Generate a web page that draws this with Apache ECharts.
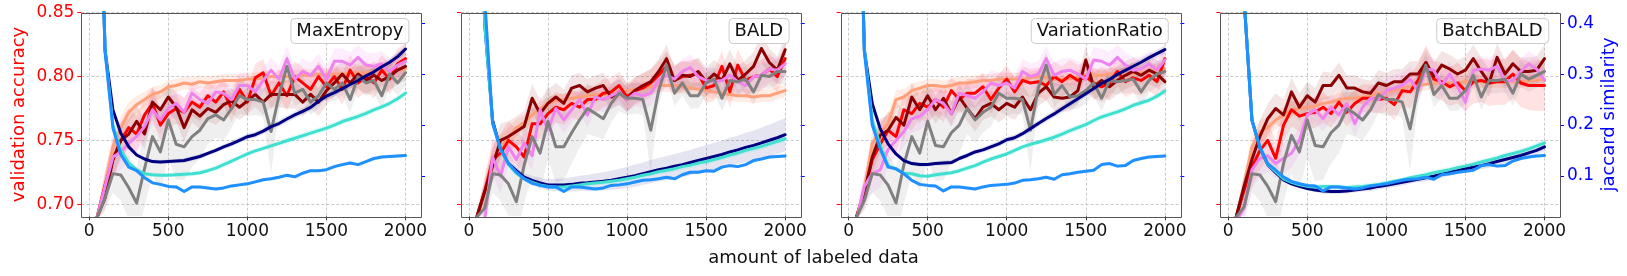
<!DOCTYPE html>
<html>
<head>
<meta charset="utf-8">
<script src="https://cdn.jsdelivr.net/npm/echarts/dist/echarts.min.js"></script>
<style>
html,body{margin:0;padding:0;background:#fff;}
#chart{width:1627px;height:276px;}
</style>
</head>
<body>
<div id="chart"></div>
<script>
// ---------- data ----------
const X = [50,100,150,200,250,300,350,400,450,500,550,600,650,700,750,800,850,900,950,1000,1050,1100,1150,1200,1250,1300,1350,1400,1450,1500,1550,1600,1650,1700,1750,1800,1850,1900,1950,2000];
const X_TICKS = [0,500,1000,1500,2000];
const ACC_TICKS = [0.70,0.75,0.80,0.85];
const JAC_TICKS = [0.1,0.2,0.3,0.4];
const PANEL_TITLES = ['MaxEntropy','BALD','VariationRatio','BatchBALD'];

// MaxEntropy
const ME_salmon = [0.690,0.715,0.745,0.760,0.772,0.778,0.782,0.786,0.788,0.792,0.793,0.795,0.794,0.796,0.795,0.796,0.797,0.797,0.797,0.798,0.798,0.799,0.800,0.800,0.800,0.800,0.801,0.801,0.802,0.801,0.802,0.802,0.803,0.803,0.803,0.804,0.804,0.805,0.805,0.806];
const ME_red = [0.690,0.715,0.735,0.750,0.760,0.755,0.770,0.779,0.762,0.771,0.775,0.772,0.780,0.776,0.785,0.780,0.788,0.775,0.790,0.780,0.799,0.803,0.785,0.795,0.785,0.800,0.795,0.790,0.800,0.792,0.800,0.790,0.805,0.795,0.800,0.795,0.805,0.798,0.810,0.814];
const ME_darkred = [0.690,0.705,0.735,0.750,0.755,0.765,0.755,0.780,0.774,0.784,0.776,0.760,0.774,0.769,0.775,0.772,0.778,0.781,0.776,0.781,0.786,0.780,0.786,0.786,0.786,0.786,0.780,0.786,0.780,0.789,0.795,0.802,0.795,0.802,0.797,0.801,0.797,0.800,0.805,0.808];
const ME_violet = [0.690,0.714,0.737,0.741,0.748,0.753,0.761,0.774,0.766,0.775,0.779,0.772,0.787,0.782,0.779,0.788,0.787,0.782,0.793,0.793,0.788,0.797,0.805,0.798,0.814,0.798,0.804,0.801,0.808,0.798,0.812,0.812,0.809,0.815,0.809,0.808,0.810,0.804,0.809,0.812];
const ME_gray = [0.690,0.705,0.724,0.723,0.713,0.701,0.728,0.753,0.741,0.766,0.747,0.745,0.753,0.758,0.767,0.770,0.766,0.775,0.785,0.782,0.782,0.780,0.757,0.785,0.808,0.787,0.790,0.780,0.785,0.795,0.790,0.795,0.782,0.800,0.795,0.797,0.785,0.802,0.795,0.803];
const ME_navy = [0.90,0.348,0.230,0.184,0.157,0.141,0.133,0.128,0.127,0.128,0.129,0.130,0.134,0.138,0.144,0.150,0.157,0.163,0.170,0.177,0.181,0.188,0.197,0.203,0.212,0.220,0.227,0.235,0.247,0.257,0.264,0.272,0.280,0.288,0.297,0.305,0.315,0.324,0.335,0.350];
const ME_turq = [0.90,0.350,0.200,0.150,0.125,0.112,0.104,0.102,0.101,0.101,0.102,0.103,0.104,0.106,0.110,0.115,0.122,0.129,0.136,0.143,0.149,0.154,0.159,0.164,0.169,0.174,0.179,0.184,0.189,0.194,0.200,0.207,0.212,0.217,0.223,0.230,0.236,0.243,0.252,0.263];
const ME_dodger = [0.95,0.346,0.194,0.142,0.117,0.110,0.096,0.086,0.083,0.079,0.078,0.069,0.078,0.078,0.076,0.074,0.076,0.080,0.082,0.084,0.088,0.092,0.094,0.097,0.101,0.098,0.105,0.110,0.110,0.112,0.118,0.122,0.125,0.122,0.128,0.134,0.137,0.138,0.139,0.140];

// BALD
const BALD_salmon = [0.690,0.710,0.735,0.745,0.752,0.760,0.764,0.770,0.775,0.779,0.781,0.782,0.783,0.784,0.785,0.786,0.786,0.787,0.788,0.789,0.790,0.791,0.792,0.793,0.793,0.793,0.792,0.791,0.790,0.789,0.788,0.787,0.786,0.785,0.785,0.784,0.785,0.785,0.787,0.789];
const BALD_red = [0.690,0.710,0.735,0.740,0.750,0.745,0.737,0.763,0.763,0.771,0.776,0.774,0.779,0.776,0.782,0.782,0.787,0.788,0.793,0.784,0.789,0.791,0.795,0.801,0.808,0.797,0.800,0.801,0.802,0.791,0.793,0.808,0.788,0.809,0.797,0.800,0.801,0.806,0.800,0.814];
const BALD_darkred = [0.690,0.710,0.730,0.750,0.753,0.757,0.761,0.783,0.771,0.779,0.784,0.779,0.791,0.793,0.788,0.791,0.793,0.784,0.788,0.782,0.789,0.793,0.796,0.804,0.814,0.797,0.801,0.800,0.804,0.796,0.802,0.797,0.810,0.797,0.802,0.808,0.822,0.811,0.805,0.821];
const BALD_violet = [0.686,0.688,0.737,0.722,0.745,0.735,0.748,0.738,0.774,0.758,0.775,0.766,0.774,0.782,0.770,0.784,0.782,0.785,0.788,0.782,0.787,0.785,0.787,0.797,0.801,0.798,0.804,0.807,0.800,0.797,0.796,0.797,0.801,0.796,0.793,0.800,0.801,0.806,0.805,0.810];
const BALD_gray = [0.690,0.697,0.724,0.723,0.716,0.702,0.731,0.753,0.740,0.765,0.745,0.745,0.756,0.766,0.775,0.771,0.767,0.779,0.787,0.783,0.783,0.782,0.758,0.789,0.809,0.787,0.795,0.785,0.785,0.795,0.798,0.783,0.797,0.796,0.798,0.788,0.801,0.800,0.804,0.804];
const BALD_navy = [0.95,0.40,0.209,0.153,0.124,0.110,0.097,0.091,0.086,0.082,0.082,0.082,0.083,0.085,0.086,0.0875,0.089,0.091,0.094,0.097,0.100,0.104,0.108,0.112,0.115,0.119,0.122,0.126,0.130,0.134,0.138,0.142,0.147,0.151,0.156,0.160,0.165,0.170,0.175,0.181];
const BALD_turq = [0.95,0.40,0.205,0.152,0.122,0.105,0.094,0.087,0.082,0.079,0.078,0.078,0.080,0.082,0.084,0.0855,0.087,0.089,0.091,0.094,0.097,0.101,0.104,0.108,0.111,0.114,0.118,0.121,0.125,0.128,0.132,0.136,0.141,0.145,0.150,0.154,0.158,0.163,0.168,0.173];
const BALD_dodger = [0.95,0.45,0.203,0.153,0.124,0.107,0.094,0.085,0.081,0.078,0.078,0.069,0.078,0.078,0.076,0.074,0.076,0.081,0.082,0.084,0.0875,0.091,0.092,0.094,0.097,0.094,0.102,0.107,0.107,0.110,0.109,0.117,0.120,0.118,0.122,0.130,0.133,0.137,0.138,0.139];

// VariationRatio
const VR_salmon = [0.690,0.712,0.748,0.756,0.763,0.782,0.784,0.789,0.791,0.793,0.793,0.792,0.793,0.795,0.795,0.796,0.797,0.797,0.798,0.798,0.798,0.798,0.799,0.800,0.799,0.798,0.798,0.798,0.800,0.801,0.801,0.801,0.802,0.802,0.802,0.802,0.803,0.804,0.805,0.806];
const VR_red = [0.690,0.709,0.735,0.747,0.758,0.753,0.774,0.771,0.779,0.776,0.782,0.776,0.789,0.782,0.787,0.787,0.792,0.782,0.791,0.798,0.788,0.797,0.795,0.796,0.793,0.800,0.796,0.801,0.797,0.800,0.795,0.792,0.795,0.804,0.796,0.799,0.797,0.801,0.796,0.814];
const VR_darkred = [0.690,0.709,0.737,0.754,0.758,0.768,0.762,0.784,0.774,0.785,0.774,0.783,0.771,0.784,0.775,0.767,0.776,0.779,0.774,0.779,0.776,0.784,0.774,0.787,0.792,0.784,0.783,0.784,0.789,0.813,0.792,0.797,0.792,0.797,0.801,0.804,0.801,0.805,0.802,0.796];
const VR_violet = [0.688,0.714,0.724,0.727,0.743,0.750,0.757,0.767,0.769,0.774,0.782,0.779,0.771,0.787,0.785,0.783,0.788,0.795,0.793,0.795,0.791,0.804,0.800,0.802,0.814,0.801,0.804,0.805,0.802,0.798,0.813,0.812,0.809,0.815,0.809,0.805,0.806,0.810,0.805,0.813];
const VR_gray = [0.690,0.703,0.724,0.723,0.715,0.701,0.731,0.753,0.740,0.765,0.746,0.745,0.756,0.762,0.775,0.766,0.772,0.776,0.787,0.783,0.783,0.782,0.758,0.791,0.809,0.786,0.793,0.784,0.785,0.789,0.795,0.783,0.797,0.796,0.797,0.798,0.788,0.797,0.802,0.804];
const VR_navy = [0.95,0.347,0.242,0.193,0.163,0.143,0.130,0.124,0.122,0.122,0.124,0.125,0.126,0.134,0.140,0.147,0.151,0.157,0.163,0.171,0.175,0.183,0.193,0.203,0.213,0.222,0.232,0.242,0.252,0.262,0.272,0.282,0.290,0.300,0.308,0.316,0.324,0.333,0.341,0.349];
const VR_turq = [0.95,0.350,0.210,0.160,0.120,0.113,0.105,0.104,0.100,0.099,0.102,0.104,0.106,0.110,0.115,0.120,0.127,0.133,0.138,0.143,0.150,0.157,0.162,0.166,0.171,0.176,0.182,0.189,0.195,0.201,0.209,0.216,0.221,0.226,0.232,0.239,0.244,0.249,0.257,0.267];
const VR_dodger = [0.95,0.345,0.200,0.153,0.117,0.114,0.104,0.091,0.083,0.081,0.080,0.070,0.078,0.078,0.076,0.074,0.078,0.081,0.082,0.083,0.0855,0.091,0.092,0.094,0.097,0.093,0.102,0.104,0.107,0.109,0.111,0.122,0.124,0.119,0.120,0.130,0.134,0.137,0.138,0.139];

// BatchBALD
const BB_salmon = [0.690,0.714,0.745,0.757,0.760,0.766,0.770,0.774,0.775,0.776,0.777,0.779,0.780,0.782,0.783,0.783,0.784,0.785,0.787,0.788,0.789,0.791,0.792,0.793,0.794,0.795,0.795,0.795,0.795,0.796,0.796,0.796,0.796,0.796,0.796,0.796,0.796,0.797,0.797,0.798];
const BB_red = [0.690,0.711,0.729,0.742,0.750,0.736,0.762,0.774,0.769,0.771,0.772,0.776,0.771,0.780,0.772,0.779,0.783,0.783,0.782,0.783,0.778,0.789,0.788,0.797,0.811,0.798,0.796,0.792,0.795,0.789,0.796,0.797,0.795,0.796,0.796,0.802,0.795,0.793,0.793,0.793];
const BB_darkred = [0.690,0.714,0.735,0.753,0.767,0.775,0.770,0.788,0.776,0.785,0.780,0.793,0.793,0.801,0.791,0.791,0.788,0.787,0.795,0.793,0.796,0.796,0.802,0.802,0.811,0.800,0.809,0.806,0.802,0.805,0.814,0.804,0.795,0.815,0.802,0.810,0.804,0.804,0.805,0.814];
const BB_violet = [0.686,0.697,0.727,0.736,0.738,0.732,0.736,0.740,0.750,0.770,0.774,0.767,0.776,0.770,0.779,0.763,0.776,0.783,0.782,0.789,0.791,0.793,0.798,0.789,0.806,0.805,0.793,0.802,0.792,0.780,0.805,0.806,0.805,0.808,0.797,0.797,0.804,0.810,0.806,0.797];
const BB_gray = [0.690,0.698,0.724,0.723,0.714,0.702,0.732,0.754,0.741,0.766,0.746,0.745,0.756,0.762,0.775,0.771,0.766,0.774,0.786,0.782,0.782,0.780,0.759,0.791,0.809,0.786,0.793,0.783,0.783,0.789,0.801,0.784,0.797,0.797,0.798,0.787,0.802,0.798,0.801,0.804];
const BB_navy = [0.95,0.45,0.210,0.155,0.122,0.106,0.092,0.084,0.079,0.075,0.072,0.0697,0.069,0.069,0.070,0.072,0.074,0.076,0.079,0.081,0.084,0.087,0.090,0.093,0.096,0.099,0.103,0.107,0.110,0.114,0.117,0.120,0.124,0.128,0.132,0.136,0.140,0.145,0.150,0.157];
const BB_turq = [0.95,0.45,0.210,0.156,0.123,0.108,0.094,0.087,0.082,0.079,0.078,0.079,0.079,0.078,0.077,0.078,0.079,0.081,0.083,0.086,0.089,0.092,0.096,0.099,0.102,0.106,0.109,0.112,0.116,0.119,0.123,0.127,0.131,0.135,0.140,0.144,0.148,0.153,0.159,0.165];
const BB_dodger = [0.95,0.45,0.210,0.157,0.124,0.111,0.0974,0.0888,0.0842,0.081,0.080,0.070,0.078,0.078,0.076,0.074,0.076,0.080,0.082,0.084,0.0875,0.091,0.093,0.094,0.097,0.093,0.102,0.104,0.107,0.109,0.111,0.120,0.122,0.119,0.120,0.129,0.134,0.137,0.139,0.140];

// shaded band half-widths (estimated spread)
const band_red = [0.003,0.012,0.015,0.015,0.015,0.014,0.013,0.013,0.012,0.012,0.012,0.012,0.011,0.011,0.011,0.011,0.011,0.011,0.011,0.011,0.011,0.011,0.011,0.011,0.012,0.012,0.012,0.012,0.012,0.012,0.012,0.012,0.012,0.012,0.012,0.012,0.012,0.012,0.012,0.012];
const band_red_bb = [0.003,0.012,0.015,0.015,0.015,0.014,0.013,0.013,0.012,0.012,0.012,0.012,0.011,0.011,0.011,0.011,0.011,0.011,0.011,0.011,0.012,0.012,0.013,0.013,0.014,0.014,0.015,0.015,0.016,0.016,0.017,0.017,0.018,0.018,0.018,0.019,0.019,0.019,0.020,0.020];
const band_darkred = [0.003,0.010,0.013,0.013,0.012,0.012,0.012,0.011,0.011,0.011,0.011,0.011,0.010,0.010,0.010,0.010,0.010,0.010,0.010,0.010,0.010,0.010,0.010,0.010,0.011,0.011,0.011,0.011,0.011,0.011,0.011,0.011,0.011,0.011,0.011,0.011,0.011,0.011,0.011,0.011];
const band_salmon = [0.003,0.008,0.010,0.009,0.008,0.007,0.006,0.006,0.005,0.005,0.005,0.005,0.005,0.005,0.005,0.005,0.005,0.005,0.005,0.005,0.005,0.005,0.005,0.005,0.005,0.005,0.005,0.005,0.005,0.005,0.005,0.005,0.005,0.005,0.005,0.005,0.005,0.005,0.005,0.005];
const band_violet = [0.003,0.012,0.015,0.014,0.013,0.012,0.012,0.011,0.011,0.010,0.010,0.010,0.010,0.010,0.010,0.010,0.010,0.010,0.010,0.010,0.010,0.010,0.010,0.010,0.010,0.010,0.010,0.010,0.010,0.010,0.010,0.010,0.010,0.010,0.010,0.010,0.010,0.010,0.010,0.010];
const band_gray = [0.003,0.008,0.015,0.020,0.025,0.028,0.030,0.030,0.030,0.030,0.028,0.026,0.024,0.022,0.020,0.018,0.016,0.015,0.014,0.013,0.012,0.012,0.033,0.012,0.010,0.010,0.010,0.010,0.010,0.010,0.010,0.010,0.010,0.010,0.010,0.010,0.010,0.010,0.010,0.010];
const band_navy = [0.003,0.004,0.004,0.004,0.004,0.004,0.004,0.004,0.004,0.004,0.004,0.005,0.005,0.005,0.005,0.005,0.005,0.006,0.006,0.006,0.006,0.006,0.006,0.006,0.007,0.007,0.007,0.007,0.007,0.007,0.007,0.007,0.008,0.008,0.008,0.008,0.008,0.008,0.008,0.008];
const band_navy_bald = [0.003,0.003,0.004,0.005,0.006,0.007,0.008,0.009,0.010,0.011,0.012,0.013,0.014,0.015,0.016,0.017,0.018,0.019,0.020,0.021,0.022,0.022,0.023,0.023,0.024,0.024,0.025,0.025,0.026,0.026,0.027,0.027,0.028,0.028,0.029,0.029,0.030,0.031,0.032,0.033];
const band_turq = [0.003,0.004,0.004,0.004,0.004,0.004,0.004,0.004,0.004,0.004,0.005,0.005,0.005,0.005,0.005,0.005,0.005,0.005,0.005,0.005,0.005,0.005,0.005,0.005,0.006,0.006,0.006,0.006,0.006,0.006,0.006,0.006,0.006,0.006,0.006,0.006,0.006,0.006,0.006,0.006];
const band_dodger = [0.002,0.003,0.003,0.003,0.003,0.003,0.003,0.003,0.003,0.003,0.003,0.003,0.003,0.003,0.003,0.003,0.003,0.003,0.003,0.003,0.003,0.003,0.003,0.003,0.003,0.003,0.003,0.003,0.003,0.003,0.003,0.003,0.003,0.003,0.003,0.003,0.003,0.003,0.003,0.003];

// ---------- build ----------
const FONT = 'DejaVu Sans';
const COLORS = {salmon:'#FFA07A', red:'#FF0000', darkred:'#8B0000', violet:'#EE82EE', gray:'#808080', navy:'#000080', turq:'#40E0D0', dodger:'#1E90FF'};
const BANDCOL = {salmon:'rgba(255,160,122,0.2)', red:'rgba(255,0,0,0.11)', darkred:'rgba(139,0,0,0.10)', violet:'rgba(238,130,238,0.14)', gray:'rgba(128,128,128,0.13)', navy:'rgba(0,0,128,0.10)', turq:'rgba(64,224,208,0.15)', dodger:'rgba(30,144,255,0.15)'};

const panels = [
  {salmon:ME_salmon, red:ME_red, darkred:ME_darkred, violet:ME_violet, gray:ME_gray, navy:ME_navy, turq:ME_turq, dodger:ME_dodger, navyBand:band_navy, redBand:band_red},
  {salmon:BALD_salmon, red:BALD_red, darkred:BALD_darkred, violet:BALD_violet, gray:BALD_gray, navy:BALD_navy, turq:BALD_turq, dodger:BALD_dodger, navyBand:band_navy_bald, redBand:band_red},
  {salmon:VR_salmon, red:VR_red, darkred:VR_darkred, violet:VR_violet, gray:VR_gray, navy:VR_navy, turq:VR_turq, dodger:VR_dodger, navyBand:band_navy, redBand:band_red},
  {salmon:BB_salmon, red:BB_red, darkred:BB_darkred, violet:BB_violet, gray:BB_gray, navy:BB_navy, turq:BB_turq, dodger:BB_dodger, navyBand:band_navy, redBand:band_red_bb}
];
const bandsFor = {salmon:band_salmon, darkred:band_darkred, violet:band_violet, gray:band_gray, turq:band_turq, dodger:band_dodger};

const GL = 81.3, GW = 339.7, GSTEP = 379.67, GT = 12.7, GH = 203.6;
const grids = [], xAxes = [], yAxes = [], series = [], titles = [], frames = [];
const gridLine = {show:true, lineStyle:{type:[3,2], color:'#bdbdbd', width:0.8}};

PANEL_TITLES.forEach((t, i) => {
  const left = GL + GSTEP*i;
  grids.push({left: left, top: GT, width: GW, height: GH, show:false, containLabel:false});
  frames.push({type:'rect', silent:true, z:100,
    shape:{x: Math.round(left)+0.5, y: Math.round(GT)+0.5, width: Math.round(GW), height: Math.round(GH)},
    style:{fill:null, stroke:'#555555', lineWidth:1}});
  xAxes.push({
    gridIndex:i, type:'value', min:-50, max:2098, splitNumber:5, position:'bottom',
    axisLine:{show:false, onZero:false},
    axisTick:{show:true, length:4, lineStyle:{color:'#333', width:1}, customValues:X_TICKS},
    axisLabel:{show:true, customValues:X_TICKS, margin:7, fontSize:17, color:'#111', fontFamily:FONT, formatter:(v)=>String(v)},
    splitLine:gridLine
  });
  yAxes.push({
    gridIndex:i, type:'value', position:'left', min:0.6906, max:0.85, splitNumber:3,
    axisLine:{show:false, onZero:false},
    axisTick:{show:true, length:4, lineStyle:{color:'#ff0000', width:1}, customValues:ACC_TICKS},
    axisLabel:{show:i===0, customValues:ACC_TICKS, margin:7, fontSize:17, color:'#ff0000', fontFamily:FONT, formatter:(v)=>v.toFixed(2)},
    splitLine:gridLine,
    name: i===0 ? 'validation accuracy' : '', nameLocation:'middle', nameGap:53, nameRotate:90,
    nameTextStyle:{color:'#ff0000', fontSize:18, fontFamily:FONT}
  });
  yAxes.push({
    gridIndex:i, type:'value', position:'right', min:0.02, max:0.4217, splitNumber:4,
    axisLine:{show:false, onZero:false},
    axisTick:{show:true, length:4, lineStyle:{color:'#0000ff', width:1}, customValues:JAC_TICKS},
    axisLabel:{show:i===3, customValues:JAC_TICKS, margin:7, fontSize:17, color:'#0000ff', fontFamily:FONT, formatter:(v)=>v.toFixed(1)},
    splitLine:{show:false},
    name: i===3 ? 'jaccard similarity' : '', nameLocation:'middle', nameGap:40, nameRotate:90,
    nameTextStyle:{color:'#0000ff', fontSize:18, fontFamily:FONT}
  });
  titles.push({
    text:t, right: 1627 - (left + GW - 11.5), top:18, padding:[4,6],
    backgroundColor:'rgba(255,255,255,0.8)', borderColor:'#cccccc', borderWidth:1, borderRadius:4,
    textStyle:{fontSize:18, fontWeight:'normal', color:'#111', fontFamily:FONT}
  });

  const p = panels[i];
  const addBand = (key, yIdx, hw) => {
    const mid = p[key];
    const col = BANDCOL[key];
    series.push({
      type:'custom', xAxisIndex:i, yAxisIndex:yIdx, silent:true, clip:true,
      data: X.map((x,k)=>[x, mid[k]-hw[k], mid[k]+hw[k]]),
      encode:{x:0, y:[1,2]},
      renderItem:(params, api) => {
        if (params.dataIndex !== 0) return null;
        const up = [], dn = [];
        for (let k = 0; k < X.length; k++) {
          up.push(api.coord([X[k], mid[k]+hw[k]]));
          dn.push(api.coord([X[k], mid[k]-hw[k]]));
        }
        const cs = params.coordSys;
        return {
          type:'polygon', silent:true,
          shape:{points: up.concat(dn.reverse())},
          style:{fill: col},
          clipPath:{type:'rect', shape:{x:cs.x, y:cs.y, width:cs.width, height:cs.height}}
        };
      }
    });
  };
  const addLine = (key, yIdx) => {
    series.push({type:'line', xAxisIndex:i, yAxisIndex:yIdx, data:X.map((x,k)=>[x, p[key][k]]), symbol:'none', showSymbol:false, silent:true, clip:true,
      lineStyle:{color:COLORS[key], width:3, cap:'round', join:'round'}});
  };
  const acc = ['salmon','red','darkred','violet','gray'];
  acc.forEach(k => addBand(k, 2*i, k === 'red' ? p.redBand : bandsFor[k]));
  acc.forEach(k => addLine(k, 2*i));
  addBand('navy', 2*i+1, p.navyBand);
  addBand('turq', 2*i+1, band_turq);
  addBand('dodger', 2*i+1, band_dodger);
  ['navy','turq','dodger'].forEach(k => addLine(k, 2*i+1));
});

titles.push({text:'amount of labeled data', left:'center', top:249, padding:0,
  textStyle:{fontSize:18, fontWeight:'normal', color:'#111', fontFamily:FONT}});

const chart = echarts.init(document.getElementById('chart'), null, {renderer:'canvas'});
chart.setOption({
  animation:false,
  backgroundColor:'#ffffff',
  textStyle:{fontFamily:FONT},
  title:titles,
  grid:grids,
  xAxis:xAxes,
  yAxis:yAxes,
  series:series,
  graphic:{elements:frames}
});
</script>
</body>
</html>
